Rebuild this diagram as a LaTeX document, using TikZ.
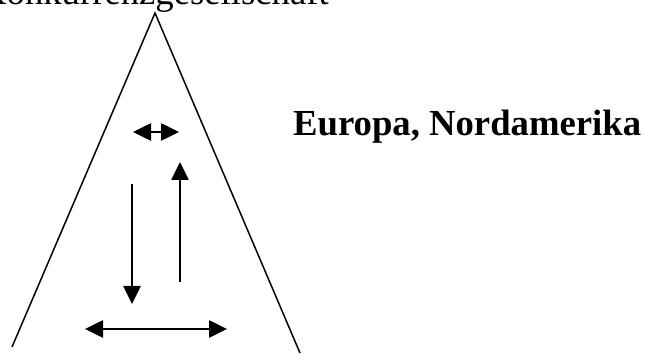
\documentclass[tikz,border=0pt]{standalone}
\usepackage{fontspec}
\setmainfont{Liberation Serif}
\usetikzlibrary{arrows.meta}
\begin{document}
\begin{tikzpicture}[x=1pt,y=1pt,
    leg/.style={line width=1.5pt},
    arr/.style={line width=2.6pt,-{Triangle[length=18pt,width=17pt]}},
    dbl/.style={line width=2.6pt,{Triangle[length=18pt,width=17pt]}-{Triangle[length=18pt,width=17pt]}},
    lbl/.style={inner sep=0pt,anchor=base west,font=\fontsize{36.7pt}{44pt}\selectfont}]
    \clip (0,0) rectangle (645,356);
            % labels
            \node[lbl] (title) at (-20,351) {Konkurrenzgesellschaft};
            \node[lbl,font=\fontsize{36.7pt}{44pt}\selectfont\bfseries] (region) at (293,220) {Europa, Nordamerika};

            % triangle
            \coordinate (apex) at (155,343);
            \coordinate (lfoot) at (12,9);
            \coordinate (rfoot) at (300,3);
            \draw[leg] (lfoot) -- (apex) -- (rfoot);

            % arrows
            \coordinate (t1) at (133,224);
            \coordinate (t2) at (179,224);
            \coordinate (d1) at (132,172);
            \coordinate (d2) at (132,52);
            \coordinate (u1) at (180,74);
            \coordinate (u2) at (180,194);
            \coordinate (b1) at (85,27);
            \coordinate (b2) at (227,27);
            \draw[dbl] (t1) -- (t2);
            \draw[arr] (d1) -- (d2);
            \draw[arr] (u1) -- (u2);
            \draw[dbl] (b1) -- (b2);
\end{tikzpicture}
\end{document}
